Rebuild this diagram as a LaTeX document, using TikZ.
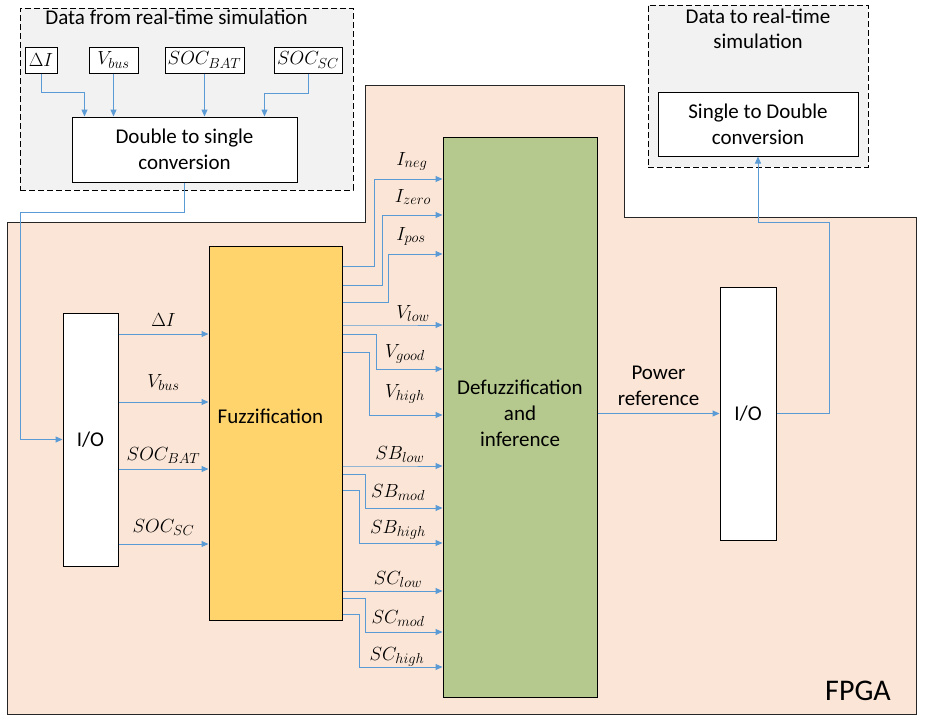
\RequirePackage{fix-cm}
\documentclass[tikz,border=0pt]{standalone}
\usepackage{amsmath}
\usepackage{fontspec}
\setmainfont{Carlito}
\usepackage{xcolor}
\usepackage{tikz}
\usetikzlibrary{arrows.meta}

\DeclareMathSizes{19}{19}{14.5}{11}

\definecolor{fpgafill}{HTML}{FBE5D6}
\definecolor{simfill}{HTML}{F2F2F2}
\definecolor{fuzzfill}{HTML}{FFD46C}
\definecolor{defuzzfill}{HTML}{B5C98E}
\definecolor{sigblue}{HTML}{5B9BD5}

\tikzset{
  blk/.style={shape=rectangle, draw=black, line width=1pt, inner sep=0pt, align=center, font=\fontsize{21}{26}\selectfont},
  var/.style={blk, fill=white, minimum height=26pt, font=\fontsize{19}{22}\selectfont},
  simbox/.style={shape=rectangle, draw=black, fill=simfill, line width=1pt, dash pattern=on 6pt off 3pt, inner sep=0pt},
  simtitle/.style={anchor=north, inner sep=2pt, align=center, font=\fontsize{21}{25}\selectfont},
  sig/.style={-{Triangle[length=7pt,width=6pt]}, line width=1pt, sigblue},
  lbl/.style={inner sep=0pt, text=black, font=\fontsize{19}{22}\selectfont},
}

\begin{document}
\begin{tikzpicture}[x=1pt,y=-1pt]
\useasboundingbox (0,0) rectangle (925,720);

%% FPGA area
\draw[fill=fpgafill, draw=black!85, line width=1pt] (7,222) -- (365,222) -- (365,85) -- (624,85) -- (624,217) -- (916,217) -- (916,714) -- (7,714) -- cycle;
\node[font=\fontsize{30}{34}\selectfont] (fpga) at (858,691) {FPGA};

%% data from simulation
\node[simbox, minimum width=333pt, minimum height=182pt, label={[simtitle, xshift=-10pt]north:Data from real-time simulation}] (src) at (186.5,99) {};
\node[var, minimum width=32pt] (dI) at (41,60) {$\Delta I$};
\node[var, minimum width=49pt] (vbus) at (113.5,60) {$V_{bus}$};
\node[var, minimum width=79pt] (socb) at (204.5,60) {$SOC_{BAT}$};
\node[var, minimum width=68pt] (socs) at (308,60) {$SOC_{SC}$};
\node[blk, fill=white, minimum width=225pt, minimum height=65pt] (conv) at (184.5,149.5) {Double to single\\conversion};

%% data to simulation
\node[simbox, minimum width=220pt, minimum height=162pt, label={[simtitle, inner sep=4pt]north:Data to real-time\\simulation}] (dst) at (758,86) {};
\node[blk, fill=white, minimum width=200pt, minimum height=64pt] (back) at (758,124) {Single to Double\\conversion};

%% blocks
\node[blk, fill=white, minimum width=55pt, minimum height=253pt] (io1) at (90.5,439.5) {I/O};
\node[blk, fill=fuzzfill, minimum width=133pt, minimum height=374pt, label={[font=\fontsize{21}{26}\selectfont, xshift=-5pt, yshift=17pt]center:Fuzzification}] (fuzz) at (275.5,433) {};
\node[blk, fill=defuzzfill, minimum width=154pt, minimum height=560pt, label={[align=center, font=\fontsize{21}{26}\selectfont, yshift=4pt]center:Defuzzification\\and\\inference}] (defuzz) at (520,417) {};
\node[blk, fill=white, minimum width=56pt, minimum height=253pt] (io2) at (748,413.5) {I/O};

%% lines to conversion
\draw[sig] (dI.south) -- ++(0,19) -| ([xshift=13pt]conv.north west);
\draw[sig] (vbus.south) -- (vbus.south |- conv.north);
\draw[sig] (socb.south) -- (socb.south |- conv.north);
\draw[sig] (socs.south) -- ++(0,20) -| ([xshift=-33pt]conv.north east);
\draw[sig] (conv.south) -- ++(0,30) -| ([xshift=-42pt]io1.west) -- (io1.west);

%% inputs
\foreach \y/\off/\name in {334/8/{\Delta I}, 402/15/{V_{bus}}, 469/9/{SOC_{BAT}}, 544/12/{SOC_{SC}}}
  \draw[sig] (io1.east |- 0,\y) -- (fuzz.west |- 0,\y) node[lbl, pos=.5, anchor=base, yshift=\off pt] {$\name$};

%% fuzzy sets
\foreach \ya/\xt/\yb/\lx/\off/\name in {
    266/374/179/412/14/{I_{neg}}, 285/382/215/413/13/{I_{zero}}, 302/388/254/411/14/{I_{pos}},
    325/400/325/413/7/{V_{low}}, 334/376/369/405/12/{V_{good}}, 352/369/415/405/18/{V_{high}},
    466/400/466/400/7/{SB_{low}}, 474/365/508/398/11/{SB_{mod}}, 490/359/543/398/10/{SB_{high}},
    591/400/591/398/7/{SC_{low}}, 598/365/632/398/9/{SC_{mod}}, 614/359/667/397/7/{SC_{high}}}
{
  \draw[sig] (fuzz.east |- 0,\ya) -- (\xt,\ya) -- (\xt,\yb) -- (defuzz.west |- 0,\yb);
  \node[lbl, anchor=base] (set\ya) at (\lx,\yb-\off) {$\name$};
}

%% output
\draw[sig] (defuzz.east |- io2.west) -- (io2.west) node[midway, above=6pt, inner sep=1pt, align=center, text=black, font=\fontsize{21}{26}\selectfont] (pref) {Power\\reference};
\draw[sig] (io2.east) -- ++(53,0) |- ([yshift=-66pt]back.south) -- (back.south);

\end{tikzpicture}
\end{document}
